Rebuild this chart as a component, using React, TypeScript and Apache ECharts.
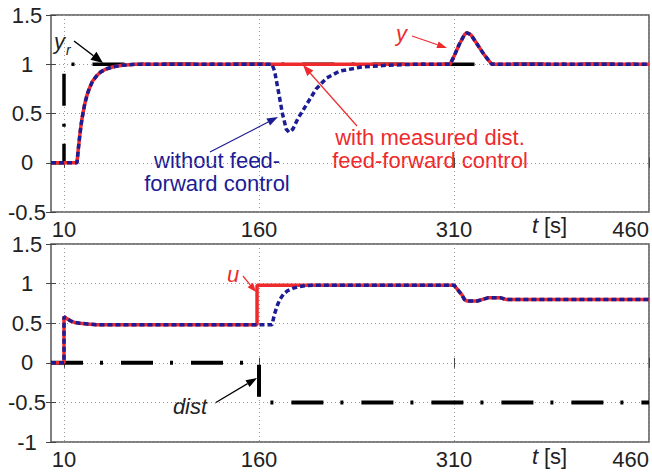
import React, { useEffect, useRef } from "react";
import * as echarts from "echarts";

// ---------- data ----------
const xTicks = [10, 160, 310, 460];

// top plot: reference y_r and output y
const yrRef = [[0, 0], [10, 0], [10, 1], [460, 1]];
const yWithFF = [
  [0, 0], [20, 0], [21, 0.14], [22, 0.26], [23, 0.37], [24, 0.46], [25, 0.53], [26, 0.6],
  [28, 0.7], [30, 0.77], [32, 0.83], [35, 0.88], [38, 0.92], [42, 0.95], [48, 0.975],
  [55, 0.99], [65, 1], [307, 1], [310, 1.08], [314, 1.2], [318, 1.3], [320, 1.32],
  [323, 1.3], [327, 1.22], [333, 1.1], [339, 1], [460, 1],
];
const yWithoutFF = [
  [0, 0], [20, 0], [21, 0.14], [22, 0.26], [23, 0.37], [24, 0.46], [25, 0.53], [26, 0.6],
  [28, 0.7], [30, 0.77], [32, 0.83], [35, 0.88], [38, 0.92], [42, 0.95], [48, 0.975],
  [55, 0.99], [65, 1], [170, 1], [172, 0.93], [175, 0.72], [178, 0.5], [181, 0.34],
  [183, 0.31], [186, 0.34], [190, 0.45], [197, 0.6], [204, 0.75], [212, 0.86], [222, 0.93],
  [238, 0.97], [258, 0.99], [280, 1], [307, 1], [310, 1.08], [314, 1.2], [318, 1.3],
  [320, 1.32], [323, 1.3], [327, 1.22], [333, 1.1], [339, 1], [460, 1],
];

// bottom plot: control u and disturbance dist
const uWithFF = [
  [0, 0], [10, 0], [10, 0.58], [12, 0.56], [15, 0.53], [18, 0.51], [22, 0.5], [28, 0.49],
  [35, 0.48], [158.5, 0.48], [158.5, 0.98], [310, 0.98], [312, 0.94], [314, 0.9],
  [316, 0.86], [318, 0.8], [320, 0.78], [328, 0.78], [332, 0.8], [336, 0.82], [346, 0.82],
  [350, 0.8], [460, 0.8],
];
const uWithoutFF = [
  [0, 0], [10, 0], [10, 0.58], [12, 0.56], [15, 0.53], [18, 0.51], [22, 0.5], [28, 0.49],
  [35, 0.48], [170, 0.48], [172, 0.62], [174, 0.72], [176, 0.8], [179, 0.87], [182, 0.91],
  [186, 0.94], [190, 0.96], [196, 0.975], [205, 0.98], [310, 0.98], [312, 0.94], [314, 0.9],
  [316, 0.86], [318, 0.8], [320, 0.78], [328, 0.78], [332, 0.8], [336, 0.82], [346, 0.82],
  [350, 0.8], [460, 0.8],
];
const dist = [[0, 0], [160, 0], [160, -0.5], [460, -0.5]];

// ---------- styles ----------
const RED = "#ee2a2d";
const BLUE = "#1c1c94";
const TXT = "#222";
const FONT = "'Liberation Sans', Arial, Helvetica, sans-serif";

function arrow(x1: number, y1: number, x2: number, y2: number, color: string, width: number, L = 11, W = 4) {
  const ang = Math.atan2(y2 - y1, x2 - x1);
  const bx = x2 - L * Math.cos(ang);
  const by = y2 - L * Math.sin(ang);
  const px = -Math.sin(ang) * W;
  const py = Math.cos(ang) * W;
  return [
    { type: "line", shape: { x1, y1, x2: bx, y2: by }, style: { stroke: color, lineWidth: width } },
    { type: "polygon", shape: { points: [[x2, y2], [bx + px, by + py], [bx - px, by - py]] }, style: { fill: color } },
  ];
}

function txt(text: string, x: number, y: number, color: string, opts: any = {}) {
  return {
    type: "text",
    x,
    y,
    style: {
      text,
      fill: color,
      fontSize: opts.fontSize ?? 22,
      fontFamily: FONT,
      fontStyle: opts.italic ? "italic" : "normal",
      align: opts.align ?? "left",
      verticalAlign: "middle",
    },
  };
}

export default function App() {
  const ref = useRef<HTMLDivElement>(null);
  useEffect(() => {
    if (!ref.current) return;
    const chart = echarts.init(ref.current, undefined, { renderer: "svg" });

    const xAxisFor = (gi: number, pos: "bottom" | "top") => ({
      gridIndex: gi,
      type: "value",
      min: 0,
      max: 460,
      position: pos,
      axisLine: { show: false },
      axisTick: { show: true, inside: true, length: 5, customValues: xTicks, lineStyle: { color: "#444", width: 1 } },
      axisLabel: pos === "bottom"
        ? { show: true, customValues: xTicks, fontSize: 22, color: TXT, fontFamily: FONT, margin: 6, alignMaxLabel: "right" }
        : { show: false },
      splitLine: pos === "bottom"
        ? { show: true, lineStyle: { color: "#9a9a9a", width: 1, type: [1, 3] } }
        : { show: false },
    });
    const yAxisFor = (gi: number, min: number, pos: "left" | "right") => ({
      gridIndex: gi,
      type: "value",
      min,
      max: 1.5,
      interval: 0.5,
      position: pos,
      axisLine: { show: false },
      axisTick: { show: true, inside: true, length: 5, lineStyle: { color: "#444", width: 1 } },
      axisLabel: pos === "left"
        ? { show: true, fontSize: 22, color: TXT, fontFamily: FONT, align: "center", margin: 24 }
        : { show: false },
      splitLine: pos === "left"
        ? { show: true, lineStyle: { color: "#9a9a9a", width: 1, type: [1, 3] } }
        : { show: false },
    });

    const base = { type: "line", symbol: "none", showSymbol: false, silent: true, animation: false };
    const dashDot = [32, 17, 3, 18];

    const graphic: any[] = [
      // top annotations
      txt("y", 54, 41, TXT, { italic: true }),
      txt("r", 66, 50, TXT, { italic: true, fontSize: 14 }),
      ...arrow(74, 41, 103, 63, "#000", 1.5, 12, 5),
      txt("y", 396, 33, RED, { italic: true }),
      ...arrow(412, 36, 447, 48, RED, 1.2, 10, 3.5),
      txt("without feed-", 217, 160, BLUE, { align: "center" }),
      txt("forward control", 217, 183, BLUE, { align: "center" }),
      ...arrow(210, 152, 278, 117, BLUE, 1.2, 11, 4),
      txt("with measured dist.", 430, 137, RED, { align: "center" }),
      txt("feed-forward control", 430, 160, RED, { align: "center" }),
      ...arrow(357, 126, 303, 65, RED, 1.2, 11, 4),
      txt("t", 532, 225, TXT, { italic: true }),
      txt("[s]", 544, 225, TXT),
      // bottom annotations
      txt("u", 233, 274, RED, { italic: true, align: "center" }),
      ...arrow(243, 276, 256, 292, RED, 1.2, 9, 3.5),
      txt("dist", 190, 406, TXT, { italic: true, align: "center" }),
      ...arrow(215, 403, 257, 378, "#000", 1.2, 11, 4),
      txt("t", 532, 456, TXT, { italic: true }),
      txt("[s]", 544, 456, TXT),
    ];

    chart.setOption({
      animation: false,
      backgroundColor: "#fff",
      grid: [
        { left: 51, top: 15, width: 598, height: 197, show: true, borderColor: "#555", borderWidth: 1.5, containLabel: false, outerBoundsMode: "none" },
        { left: 51, top: 244, width: 598, height: 198, show: true, borderColor: "#555", borderWidth: 1.5, containLabel: false, outerBoundsMode: "none" },
      ],
      xAxis: [xAxisFor(0, "bottom"), xAxisFor(0, "top"), xAxisFor(1, "bottom"), xAxisFor(1, "top")],
      yAxis: [yAxisFor(0, -0.5, "left"), yAxisFor(0, -0.5, "right"), yAxisFor(1, -1, "left"), yAxisFor(1, -1, "right")],
      series: [
        { ...base, name: "y_r", xAxisIndex: 0, yAxisIndex: 0, data: yrRef, z: 2, lineStyle: { color: "#000", width: 3.5, type: dashDot } },
        { ...base, name: "y with FF", xAxisIndex: 0, yAxisIndex: 0, data: yWithFF, z: 3, lineStyle: { color: RED, width: 3.5 } },
        { ...base, name: "y without FF", xAxisIndex: 0, yAxisIndex: 0, data: yWithoutFF, z: 4, lineStyle: { color: BLUE, width: 3.5, type: [5, 3] } },
        { ...base, name: "dist", xAxisIndex: 2, yAxisIndex: 2, data: dist, z: 2, lineStyle: { color: "#000", width: 4, type: dashDot } },
        { ...base, name: "u with FF", xAxisIndex: 2, yAxisIndex: 2, data: uWithFF, z: 3, lineStyle: { color: RED, width: 3.5 } },
        { ...base, name: "u without FF", xAxisIndex: 2, yAxisIndex: 2, data: uWithoutFF, z: 4, lineStyle: { color: BLUE, width: 3.5, type: [5, 3] } },
      ],
      graphic,
    });
    return () => chart.dispose();
  }, []);

  return (
    <div
      ref={ref}
      style={{ position: "absolute", left: 0, top: 0, width: 652, height: 475, background: "#fff" }}
    />
  );
}
